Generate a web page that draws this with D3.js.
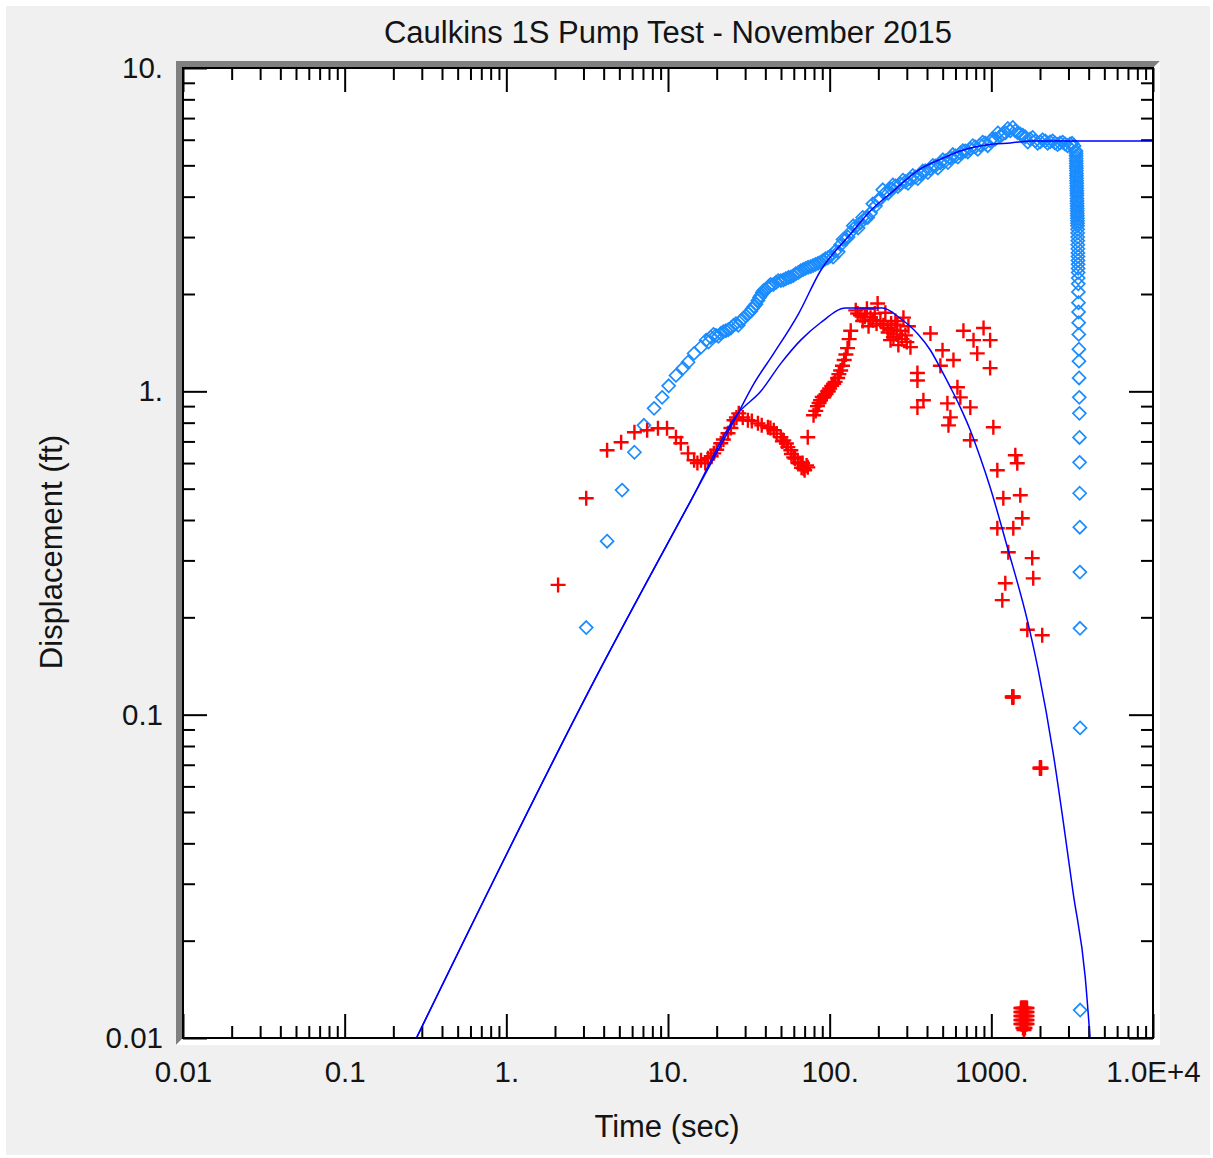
<!DOCTYPE html>
<html>
<head>
<meta charset="utf-8">
<script src="https://cdn.jsdelivr.net/npm/d3@7"></script>
<style>
  html, body { margin: 0; padding: 0; background: #ffffff; }
  svg { display: block; }
  text { font-family: "Liberation Sans", Arial, sans-serif; fill: #141414; }
</style>
</head>
<body>
<svg id="chart" width="1213" height="1158"></svg>
<script>
// ---------------- data ----------------
const chartTitle = "Caulkins 1S Pump Test - November 2015";
const xAxisTitle = "Time (sec)";
const yAxisTitle = "Displacement (ft)";

const xTickValues = [0.01, 0.1, 1, 10, 100, 1000, 10000];
const xTickLabels = ["0.01", "0.1", "1.", "10.", "100.", "1000.", "1.0E+4"];
const yTickValues = [0.01, 0.1, 1, 10];
const yTickLabels = ["0.01", "0.1", "1.", "10."];

// observation well 1 (blue diamonds): [time sec, displacement ft]
const obsBlue = [
  [3.12,0.186],[4.2,0.344],[5.2,0.495],[6.2,0.648],[7.1,0.785],[8.2,0.886],[9.2,0.958],
  [10.1,1.04],[11.2,1.12],[12.4,1.18],[13.3,1.23],[14.5,1.31],[16.0,1.37],
  [17.2,1.44],[18.4,1.47],[19.8,1.49],[21.2,1.51],[22.8,1.54],[24.5,1.57],[26.3,1.62],
  [28.2,1.65],[30.3,1.71],[32.5,1.77],[34.0,1.83],[36.0,1.91],[37.5,1.98],[39.1,2.05],
  [41.5,2.09],[43.2,2.14],[46.5,2.17],[49.9,2.20],[53.5,2.23],[57.5,2.26],[61.7,2.31],
  [66.2,2.36],[71.0,2.40],[76.3,2.43],[81.8,2.47],[87.8,2.51],[94.2,2.57],[101,2.62],
  [109,2.72],[117,2.84],[126,2.96],[135,3.11],[145,3.23],[155,3.32],[167,3.44],[179,3.56],
  [192,3.74],[206,3.94],[221,4.11],[238,4.23],[255,4.32],[274,4.38],[294,4.45],[316,4.54],
  [339,4.60],[364,4.70],[391,4.81],[420,4.88],[451,4.98],[484,5.09],[520,5.16],[558,5.27],
  [599,5.35],[643,5.46],[690,5.54],[741,5.62],[795,5.70],[853,5.78],[916,5.86],[983,5.95],
  [1059,6.03],[1137,6.16],[1220,6.30],[1310,6.39],[1407,6.39],[1510,6.25],[1621,6.12],
  [1740,6.03],[1868,5.95],[2005,5.91],[2152,5.95],[2310,5.91],[2480,5.86],[2660,5.86],
  [2860,5.82],[3070,5.82],[3250,5.74],
  [17.8,1.42],[19.1,1.50],[20.5,1.48],[22,1.53],[23.6,1.55],[25.4,1.60],[27.2,1.60],
  [29.2,1.68],[31.4,1.74],[33.2,1.80],[35,1.86],[36.8,1.95],[38.3,2.02],[40.3,2.06],
  [42.3,2.12],[44.8,2.14],[48,2.20],[51.7,2.21],[55.5,2.25],[59.6,2.28],[64,2.33],
  [68.6,2.38],[73.6,2.42],[79,2.45],[84.8,2.49],[91,2.54],[97.5,2.59],
  [105,2.60],[113,2.70],[121,2.95],[130,3.00],[140,3.25],[150,3.20],[160,3.45],[172,3.45],
  [185,3.80],[199,3.90],[213,4.20],[230,4.10],[246,4.35],[264,4.30],[284,4.50],[305,4.40],
  [327,4.65],[351,4.55],[377,4.80],[405,4.75],[435,5.00],[467,4.90],[502,5.20],[539,5.10],
  [578,5.40],[621,5.30],[666,5.55],[715,5.50],[768,5.75],[824,5.60],[884,5.90],[950,5.75],
  [1020,6.05],[1098,6.30],[1178,6.25],[1265,6.50],[1358,6.55],[1458,6.30],[1565,6.20],
  [1680,5.90],[1800,6.10],[1935,5.85],[2078,6.00],[2230,5.85],[2395,5.95],[2570,5.80],
  [2760,5.90],[2960,5.75],[3160,5.85],
  [3340,5.54],[3345,5.35],[3350,5.16],[3355,4.98],[3360,4.81],[3365,4.64],[3370,4.48],
  [3375,4.32],[3380,4.17],[3385,4.03],[3390,3.88],[3395,3.74],[3400,3.61],[3405,3.49],
  [3410,3.37],[3415,3.25],[3420,3.09],[3425,2.92],[3430,2.76],[3435,2.61],[3440,2.47],
  [3445,2.33],[3450,2.15],[3455,2.03],[3460,1.88],[3465,1.76],[3470,1.63],[3475,1.50],
  [3480,1.35],[3485,1.24],[3490,1.10],[3500,0.958],[3505,0.855],[3510,0.72],[3515,0.603],
  [3520,0.484],[3525,0.38],[3530,0.276],[3535,0.185],[3540,0.091],[3545,0.0122],
  [3342,5.45],[3347,5.25],[3352,5.07],[3357,4.90],[3362,4.72],[3367,4.56],[3372,4.40],
  [3377,4.25],[3382,4.10],[3387,3.95],[3392,3.81],[3397,3.68],[3402,3.55],[3407,3.43],
  [3412,3.31],[3417,3.17],[3422,3.00],[3427,2.84],[3432,2.68],[3437,2.54],[3442,2.40],
  [3447,2.24]
];

// observation well 2 (red crosses): [time sec, displacement ft]
const obsRed = [
  [2.09,0.252],[3.12,0.467],[4.2,0.657],[5.13,0.696],[6.2,0.747],[7.43,0.758],[8.67,0.769],
  [9.86,0.769],[11.2,0.721],[12.0,0.691],[13.3,0.643],[14.5,0.612],[15.2,0.60],[16.0,0.612],
  [17.0,0.60],[17.7,0.621],[18.5,0.63],[19.2,0.643],[20,0.66],[21.2,0.691],[22,0.71],
  [23.5,0.742],[24.5,0.77],[25.6,0.814],[26.5,0.83],[27.4,0.855],[29,0.83],[31.2,0.814],
  [33,0.81],[36.0,0.796],[38,0.785],[41.5,0.774],[43,0.77],[45.1,0.758],[47,0.74],
  [49.9,0.721],[51,0.70],[52.0,0.705],[54,0.69],[55.1,0.672],[57.5,0.657],[58,0.64],
  [59.9,0.625],[61,0.62],[63.5,0.603],[64,0.60],[66.2,0.599],[67,0.58],[68,0.60],
  [69.0,0.578],[70,0.57],[72,0.59],[73.2,0.582],
  [73.2,0.721],[79.5,0.843],[82,0.87],[84,0.90],[86,0.92],[87.8,0.938],[90,0.96],
  [91.9,0.958],[93,0.97],[95,0.98],[97.2,1.0],[98,1.0],[100,1.02],[103,1.04],[105.8,1.056],
  [108,1.07],[112,1.10],[114,1.13],[117,1.16],[120,1.20],[123,1.25],[126,1.30],[129,1.36],
  [132,1.45],[135,1.54],[145,1.78],[149,1.74],[155,1.72],[160,1.65],[165,1.70],[170,1.80],
  [174,1.59],[179,1.69],[185,1.66],[190,1.74],[195,1.62],[198,1.87],[206,1.65],[215,1.60],
  [221,1.75],[228,1.57],[230,1.52],[238,1.44],[240,1.55],[240,1.62],[248,1.47],[255,1.65],
  [260,1.50],[262,1.60],[266,1.39],[274,1.54],[280,1.45],[286,1.69],[294,1.49],[300,1.42],
  [307,1.59],[316,1.37],
  [349,1.14],[349,1.08],[349,0.892],[380,0.938],[420,1.51],[484,1.20],[499,1.34],[535,0.918],
  [543,0.785],[558,0.831],[583,1.25],[617,1.03],[643,0.958],[672,1.54],[741,0.892],
  [741,0.706],[776,1.44],[818,1.31],[895,1.57],[983,1.44],[983,1.18],[1029,0.774],
  [1089,0.570],[1186,0.467],[1407,0.634],[1447,0.599],[1510,0.477],[1089,0.377],
  [1367,0.377],[1554,0.405],[1273,0.318],[1790,0.305],[1816,0.264],[1220,0.255],
  [1169,0.226],[1669,0.183],[2064,0.176],
  [1348,0.113],[1367,0.113],[1348,0.1138],[1367,0.1138],
  [2000,0.0681],[2028,0.0681],[2000,0.0686],[2028,0.0686],
  [1524,0.01238],[1547,0.01238],[1569,0.01238],[1592,0.01238],[1615,0.01238],[1638,0.01238],[1662,0.01238],
  [1524,0.01204],[1547,0.01204],[1569,0.01204],[1592,0.01204],[1615,0.01204],[1638,0.01204],[1662,0.01204],
  [1524,0.01170],[1547,0.01170],[1569,0.01170],[1592,0.01170],[1615,0.01170],[1638,0.01170],[1662,0.01170],
  [1524,0.01137],[1547,0.01137],[1569,0.01137],[1592,0.01137],[1615,0.01137],[1638,0.01137],[1662,0.01137],
  [1524,0.01105],[1547,0.01105],[1569,0.01105],[1592,0.01105],[1615,0.01105],[1638,0.01105],[1662,0.01105],
  [1569,0.01074],[1592,0.01074],[1615,0.01074],[1592,0.01059]
];

// type-curve fits (blue lines)
const fitPumping = [
  [0.278,0.01],[3.86,0.140],[13.9,0.461],[27.1,0.855],[34.0,1.056],[45.1,1.31],
  [64.3,1.74],[87.8,2.36],[135,3.07],[179,3.62],[248,4.17],[349,4.81],[505,5.27],
  [643,5.54],[1029,5.82],[1310,5.86],[1740,5.95],[10000,5.95]
];
const fitRecovery = [
  [0.278,0.01],[3.86,0.140],[13.9,0.461],[27.1,0.855],[37.5,1.0],[49.9,1.22],[66.2,1.44],
  [87.8,1.63],[126,1.81],[212,1.81],[274,1.68],[349,1.51],[420,1.34],[484,1.18],
  [558,1.03],[643,0.892],[741,0.758],[853,0.625],[983,0.505],[1255,0.33],[1669,0.196],
  [1953,0.137],[2415,0.0758],[2780,0.047],[3210,0.028],[3810,0.0154],[4080,0.01]
];

// ---------------- drawing ----------------
const svg = d3.select("#chart");
const W = 1213, H = 1158;
const L = 183, R = 1153, T = 68, B = 1038;

svg.append("rect").attr("x", 0).attr("y", 0).attr("width", W).attr("height", H).attr("fill", "#ffffff");
svg.append("rect").attr("x", 6).attr("y", 6).attr("width", 1204).attr("height", 1149).attr("fill", "#f0f0f0");

const x = d3.scaleLog().domain([0.01, 10000]).range([L, R]);
const y = d3.scaleLog().domain([0.01, 10]).range([B, T]);

// sunken bevel
svg.append("polygon")
  .attr("points", [[176,61],[1160,61],[1153,68],[183,68],[183,1038],[176,1045]].map(p => p.join(",")).join(" "))
  .attr("fill", "#808080");
svg.append("polygon")
  .attr("points", [[1160,61],[1160,1045],[176,1045],[183,1038],[1153,1038],[1153,68]].map(p => p.join(",")).join(" "))
  .attr("fill", "#ffffff");
svg.append("rect").attr("x", L).attr("y", T).attr("width", R - L).attr("height", B - T).attr("fill", "#ffffff");

// ticks
const isPow10 = v => Math.abs(Math.log10(v) - Math.round(Math.log10(v))) < 1e-6;
const xMinor = x.ticks().filter(v => !isPow10(v));
const yMinor = y.ticks().filter(v => !isPow10(v));

function styleAxis(g) {
  g.select(".domain").remove();
  g.selectAll("line").attr("stroke", "#000").attr("stroke-width", 2);
  g.selectAll("text").style("font-family", '"Liberation Sans", Arial, sans-serif')
    .style("font-size", "29.5px").attr("fill", "#141414");
}

svg.append("g").attr("transform", `translate(0,${B})`)
  .call(d3.axisBottom(x).tickValues(xTickValues).tickSize(-24).tickPadding(23)
    .tickFormat((d, i) => xTickLabels[i])).call(styleAxis);
svg.append("g").attr("transform", `translate(0,${B})`)
  .call(d3.axisBottom(x).tickValues(xMinor).tickSize(-12).tickFormat("")).call(styleAxis);
svg.append("g").attr("transform", `translate(0,${T})`)
  .call(d3.axisTop(x).tickValues(xTickValues).tickSize(-24).tickFormat("")).call(styleAxis);
svg.append("g").attr("transform", `translate(0,${T})`)
  .call(d3.axisTop(x).tickValues(xMinor).tickSize(-12).tickFormat("")).call(styleAxis);

svg.append("g").attr("transform", `translate(${L},0)`)
  .call(d3.axisLeft(y).tickValues(yTickValues).tickSize(-24).tickPadding(20)
    .tickFormat((d, i) => yTickLabels[i])).call(styleAxis);
svg.append("g").attr("transform", `translate(${L},0)`)
  .call(d3.axisLeft(y).tickValues(yMinor).tickSize(-12).tickFormat("")).call(styleAxis);
svg.append("g").attr("transform", `translate(${R},0)`)
  .call(d3.axisRight(y).tickValues(yTickValues).tickSize(-24).tickFormat("")).call(styleAxis);
svg.append("g").attr("transform", `translate(${R},0)`)
  .call(d3.axisRight(y).tickValues(yMinor).tickSize(-12).tickFormat("")).call(styleAxis);

// clip
svg.append("clipPath").attr("id", "plotclip")
  .append("rect").attr("x", L).attr("y", T).attr("width", R - L).attr("height", B - T);
const plot = svg.append("g").attr("clip-path", "url(#plotclip)");

// diamonds
plot.append("g").selectAll("path").data(obsBlue).join("path")
  .attr("transform", d => `translate(${x(d[0])},${y(d[1])})`)
  .attr("d", "M0,-6.5L6.5,0L0,6.5L-6.5,0Z")
  .attr("fill", "none").attr("stroke", "#1a8cff").attr("stroke-width", 1.7);

// crosses
plot.append("g").selectAll("path").data(obsRed).join("path")
  .attr("transform", d => `translate(${x(d[0])},${y(d[1])})`)
  .attr("d", "M-7.5,0H7.5M0,-7.5V7.5")
  .attr("fill", "none").attr("stroke", "#ff0000").attr("stroke-width", 2.4);

// fitted curves
const lineGen = d3.line().x(d => x(d[0])).y(d => y(d[1])).curve(d3.curveMonotoneX);
[fitPumping, fitRecovery].forEach(s => {
  plot.append("path").datum(s).attr("d", lineGen)
    .attr("fill", "none").attr("stroke", "#0000ff").attr("stroke-width", 1.5);
});

// frame
svg.append("rect").attr("x", L).attr("y", T).attr("width", R - L).attr("height", B - T)
  .attr("fill", "none").attr("stroke", "#000").attr("stroke-width", 2);

// titles
svg.append("text").attr("x", 668).attr("y", 43).attr("text-anchor", "middle")
  .style("font-size", "31px").text(chartTitle);
svg.append("text").attr("x", 667).attr("y", 1137).attr("text-anchor", "middle")
  .style("font-size", "31px").text(xAxisTitle);
svg.append("text").attr("transform", "translate(62,552) rotate(-90)").attr("text-anchor", "middle")
  .style("font-size", "31px").text(yAxisTitle);
</script>
</body>
</html>
